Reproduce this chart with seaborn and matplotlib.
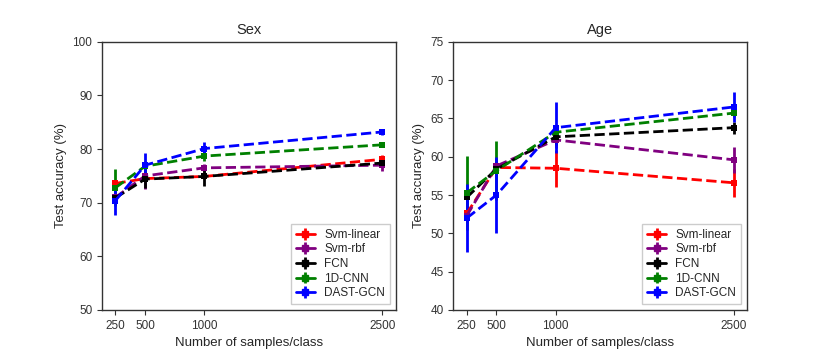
import numpy as np
import pandas as pd
import matplotlib
matplotlib.use("Agg")
import matplotlib.pyplot as plt
import seaborn as sns

samples = [250, 500, 1000, 2500]
methods = ["Svm-linear", "Svm-rbf", "FCN", "1D-CNN", "DAST-GCN"]
colors = ["red", "purple", "black", "green", "blue"]

sex_mean = {
    "Svm-linear": [73.6, 74.5, 74.9, 78.1],
    "Svm-rbf":    [71.0, 75.0, 76.5, 77.0],
    "FCN":        [70.9, 74.4, 74.9, 77.4],
    "1D-CNN":     [72.8, 76.8, 78.7, 80.8],
    "DAST-GCN":   [70.4, 77.0, 80.1, 83.2],
}
sex_err = {
    "Svm-linear": [0.5, 0.5, 0.5, 0.8],
    "Svm-rbf":    [0.6, 2.4, 0.7, 1.0],
    "FCN":        [0.5, 1.7, 1.8, 0.8],
    "1D-CNN":     [3.5, 1.0, 1.0, 0.3],
    "DAST-GCN":   [2.7, 2.2, 1.2, 0.6],
}
age_mean = {
    "Svm-linear": [52.6, 58.6, 58.5, 56.6],
    "Svm-rbf":    [52.3, 58.8, 62.2, 59.6],
    "FCN":        [54.7, 58.4, 62.6, 63.8],
    "1D-CNN":     [55.3, 58.2, 63.2, 65.7],
    "DAST-GCN":   [52.0, 55.0, 63.8, 66.5],
}
age_err = {
    "Svm-linear": [1.0, 1.0, 2.4, 1.8],
    "Svm-rbf":    [1.0, 1.0, 1.0, 1.7],
    "FCN":        [1.0, 1.0, 1.0, 0.8],
    "1D-CNN":     [4.8, 3.8, 1.0, 0.5],
    "DAST-GCN":   [4.4, 5.0, 3.3, 2.0],
}

sns.set_style("ticks")
plt.rcParams["font.family"] = ["Liberation Sans", "DejaVu Sans"]

fig, axes = plt.subplots(1, 2, figsize=(8.3, 3.55), dpi=100)
fig.subplots_adjust(left=0.123, right=0.900, bottom=0.127, top=0.882, wspace=0.197)


def draw(ax, means, errs, title, ylim, yticks):
    rows = []
    for m in methods:
        for s, v, e in zip(samples, means[m], errs[m]):
            rows.append({"samples": s, "acc": v, "err": e, "method": m})
    df = pd.DataFrame(rows)
    for m, c in zip(methods, colors):
        d = df[df["method"] == m]
        ax.errorbar(d["samples"], d["acc"], yerr=d["err"], fmt="none",
                    ecolor=c, elinewidth=2, capsize=0, zorder=2)
        sns.lineplot(data=d, x="samples", y="acc", ax=ax, color=c,
                     linestyle="--", linewidth=2, marker="s", markersize=5,
                     markeredgewidth=0, legend=False, zorder=3)
        ax.errorbar([], [], yerr=[], color=c, linestyle="-", linewidth=2,
                    marker="s", markersize=5, elinewidth=2, label=m)
    ax.set_title(title, fontsize=10.5)
    ax.set_xlabel("Number of samples/class", fontsize=9.5)
    ax.set_ylabel("Test accuracy (%)", fontsize=9.5)
    ax.set_xticks(samples)
    ax.set_xticklabels([str(s) for s in samples])
    ax.set_xlim(137.5, 2612.5)
    ax.set_ylim(*ylim)
    ax.set_yticks(yticks)
    ax.tick_params(labelsize=8.5, length=3.5, width=0.8, colors="#333333")
    for sp in ax.spines.values():
        sp.set_visible(True)
        sp.set_color("#333333")
        sp.set_linewidth(1.0)
    ax.legend(loc="lower right", fontsize=8.5, frameon=True,
              handlelength=1.6, handletextpad=0.8, borderpad=0.4,
              labelspacing=0.22, fancybox=False, edgecolor="#cccccc",
              framealpha=1)


draw(axes[0], sex_mean, sex_err, "Sex", (50, 100), [50, 60, 70, 80, 90, 100])
draw(axes[1], age_mean, age_err, "Age", (40, 75), [40, 45, 50, 55, 60, 65, 70, 75])

fig.savefig("out.png", dpi=100)
